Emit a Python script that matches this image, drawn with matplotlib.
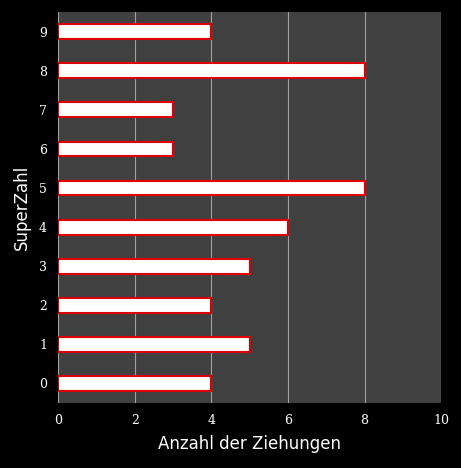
import matplotlib
matplotlib.use("Agg")
import matplotlib.pyplot as plt

categories = ["0","1","2","3","4","5","6","7","8","9"]
values = [4,5,4,5,6,8,3,3,8,4]
xticks = [0,2,4,6,8,10]

fig = plt.figure(figsize=(4.61,4.68), dpi=100, facecolor="black")
ax = fig.add_axes([0.126,0.139,0.831,0.835])
ax.set_facecolor("#404040")
ax.barh(range(len(categories)), values, height=0.38, color="white", edgecolor="#e00000", linewidth=1.5, zorder=3)
ax.set_xlim(0,10)
ax.set_ylim(-0.5,9.5)
ax.set_xticks(xticks)
ax.set_yticks(range(len(categories)))
ax.set_yticklabels(categories)
ax.grid(axis="x", color="#a0a0a0", linewidth=0.8, zorder=0)
for s in ax.spines.values():
    s.set_visible(False)
ax.tick_params(colors="white", length=0, labelsize=9, pad=8)
for l in ax.get_xticklabels()+ax.get_yticklabels():
    l.set_family("DejaVu Serif")
ax.set_xlabel("Anzahl der Ziehungen", color="white", fontsize=12, labelpad=6)
ax.set_ylabel("SuperZahl", color="white", fontsize=12, labelpad=6)
fig.savefig("out.png", dpi=100, facecolor="black")
